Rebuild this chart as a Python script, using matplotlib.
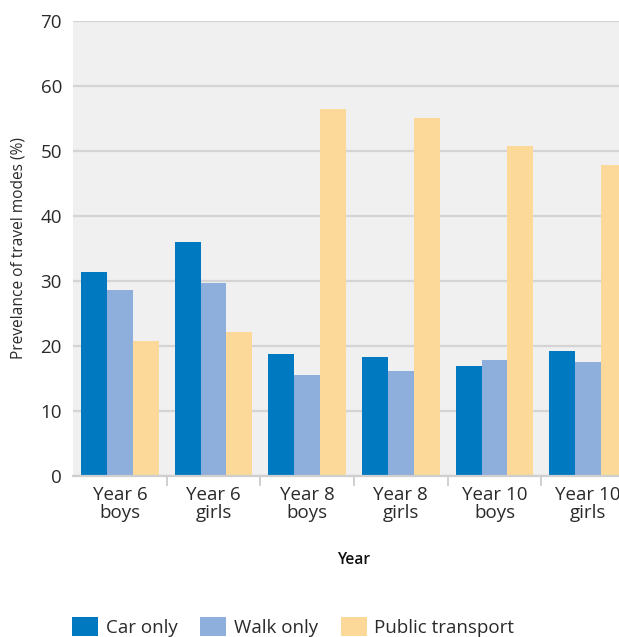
import matplotlib
matplotlib.use("Agg")
import matplotlib.pyplot as plt
import numpy as np
from matplotlib.patches import Patch

plt.rcParams["font.family"] = ["Open Sans", "DejaVu Sans"]

groups = ["Year 6\nboys", "Year 6\ngirls", "Year 8\nboys", "Year 8\ngirls",
          "Year 10\nboys", "Year 10\ngirls"]
car_only = [31.4, 36.0, 18.8, 18.3, 16.9, 19.2]
walk_only = [28.6, 29.7, 15.5, 16.2, 17.8, 17.5]
public_transport = [20.8, 22.2, 56.5, 55.1, 50.8, 47.8]

series = [("Car only", car_only, "#0079c1"),
          ("Walk only", walk_only, "#8eaedc"),
          ("Public transport", public_transport, "#fdd999")]

text_col = "#2a2a2a"
fig = plt.figure(figsize=(6.19, 6.37), dpi=100)
# plot area runs slightly past the right edge of the canvas
ax = fig.add_axes([73 / 619, 161 / 637, 562 / 619, 455 / 637])
ax.set_facecolor("#f0f0f0")

x = np.arange(len(groups))
width = 0.277
for i, (name, vals, col) in enumerate(series):
    ax.bar(x + (i - 1) * width, vals, width, color=col, label=name, zorder=2)

ax.set_xlim(-0.5, len(groups) - 0.5)
ax.set_ylim(0, 70)
ax.set_yticks(np.arange(0, 71, 10))
ax.yaxis.grid(True, color="#d4d4d4", linewidth=1.6, zorder=1)
ax.set_axisbelow(True)

for side in ["top", "right", "left"]:
    ax.spines[side].set_visible(False)
ax.spines["bottom"].set_color("#cfcfcf")
ax.spines["bottom"].set_linewidth(1.6)

ax.set_xticks(x)
ax.set_xticklabels(groups, fontsize=13.5, color=text_col, linespacing=1.0)
ax.tick_params(axis="x", which="major", length=0, pad=7)
ax.set_xticks(np.arange(0.5, len(groups) - 0.5, 1), minor=True)
ax.tick_params(axis="x", which="minor", length=7, width=1.2, color="#c8c8c8")
ax.tick_params(axis="y", length=0, pad=8, labelsize=13.5, labelcolor=text_col)

ax.set_ylabel("Prevelance of travel modes (%)", fontsize=11.2, color=text_col, labelpad=10)
ax.set_xlabel("Year", fontsize=11.2, fontweight="semibold", color="#111111", labelpad=22)

handles = [Patch(facecolor=c, label=n) for n, _, c in series]
fig.legend(handles=handles, loc="lower left", bbox_to_anchor=(59 / 619, -0.02),
           ncol=3, frameon=False, fontsize=13.5, handlelength=1.4, handleheight=1.15,
           handletextpad=0.4, columnspacing=1.2, labelcolor=text_col, borderpad=0.2)

fig.savefig("out.png", dpi=100)
